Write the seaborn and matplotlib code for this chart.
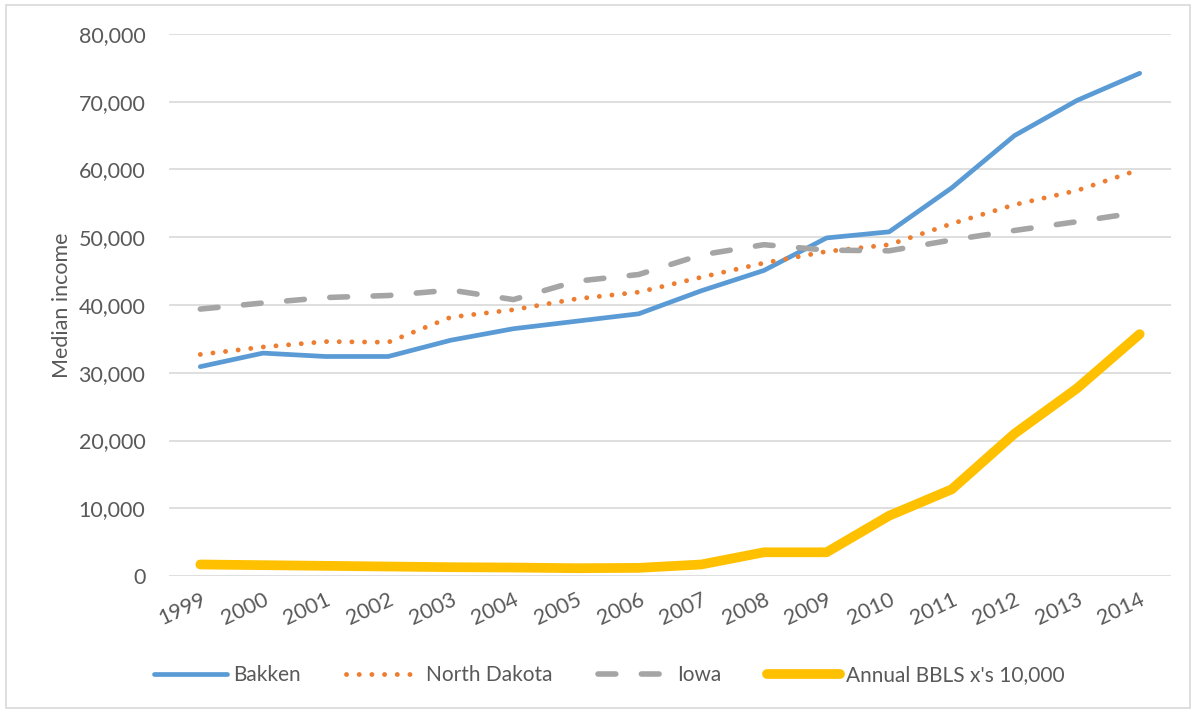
import pandas as pd
import matplotlib.pyplot as plt
import seaborn as sns
from matplotlib.patches import Rectangle

years = list(range(1999, 2015))
year_labels = [str(y) for y in years]

bakken = [30900, 32900, 32400, 32400, 34800, 36500, 37600, 38700,
          42100, 45100, 49900, 50800, 57300, 65000, 70200, 74200]
north_dakota = [32700, 33800, 34600, 34500, 38200, 39300, 40900, 41900,
                44100, 46200, 47900, 48900, 52000, 54800, 56900, 60000]
iowa = [39400, 40300, 41100, 41400, 42200, 40800, 43500, 44500,
        47400, 48900, 48100, 48000, 49600, 51000, 52300, 53700]
bbls = [1700, 1600, 1500, 1400, 1300, 1250, 1150, 1200,
        1700, 3500, 3500, 8900, 12800, 21000, 27700, 35700]

series_names = ['Bakken', 'North Dakota', 'Iowa', "Annual BBLS x's 10,000"]
colors = ['#5B9BD5', '#ED7D31', '#A5A5A5', '#FFC000']

df = pd.DataFrame({'Year': years, series_names[0]: bakken, series_names[1]: north_dakota,
                   series_names[2]: iowa, series_names[3]: bbls})
long_df = df.melt(id_vars='Year', var_name='Series', value_name='Value')

sns.set_style("white")
plt.rcParams['font.family'] = ['Lato', 'DejaVu Sans']
text_color = '#595959'

fig = plt.figure(figsize=(11.95, 7.13), dpi=100)
ax = fig.add_axes([169 / 1195, 1 - 576 / 713, (1171 - 169) / 1195, (576 - 34) / 713])

styles = {
    'Bakken': dict(lw=3.4, ls='-', solid_capstyle='round'),
    'North Dakota': dict(lw=3.5, ls=(0, (0.01, 2.6)), dash_capstyle='round'),
    'Iowa': dict(lw=4.0, ls=(0, (3.2, 4.6)), dash_capstyle='round'),
    "Annual BBLS x's 10,000": dict(lw=7.0, ls='-', solid_capstyle='round'),
}

for name, color in zip(series_names, colors):
    sub = long_df[long_df['Series'] == name]
    sns.lineplot(data=sub, x='Year', y='Value', ax=ax, color=color, label=name,
                 solid_joinstyle='round', **styles[name])

ax.set_xlim(1998.5, 2014.5)
ax.set_ylim(0, 80000)
ax.set_yticks(range(0, 80001, 10000))
ax.set_yticklabels([f'{v:,}' for v in range(0, 80001, 10000)])
ax.set_xticks(years)
ax.set_xticklabels(year_labels, rotation=25, ha='right', rotation_mode='anchor')
ax.grid(axis='y', color='#D9D9D9', lw=1.2)
ax.set_axisbelow(True)
for s in ax.spines.values():
    s.set_visible(False)
ax.tick_params(axis='both', length=0, labelsize=15.5, colors=text_color)
ax.tick_params(axis='y', pad=17)
ax.tick_params(axis='x', pad=10)
ax.set_xlabel('')
ax.set_ylabel('Median income', fontsize=15.5, color=text_color, labelpad=5)

ax.legend(loc='center', bbox_to_anchor=(0.51, 0.053), bbox_transform=fig.transFigure,
          ncol=4, frameon=False, fontsize=15, handlelength=3.5, handletextpad=0.3,
          columnspacing=2.2, labelcolor=text_color)

fig.patches.append(Rectangle((6 / 1195, 1 - 708 / 713), (1190 - 6) / 1195, (708 - 5) / 713,
                             transform=fig.transFigure, fill=False, edgecolor='#D9D9D9', lw=1.2))

fig.savefig('out.png', dpi=100)
